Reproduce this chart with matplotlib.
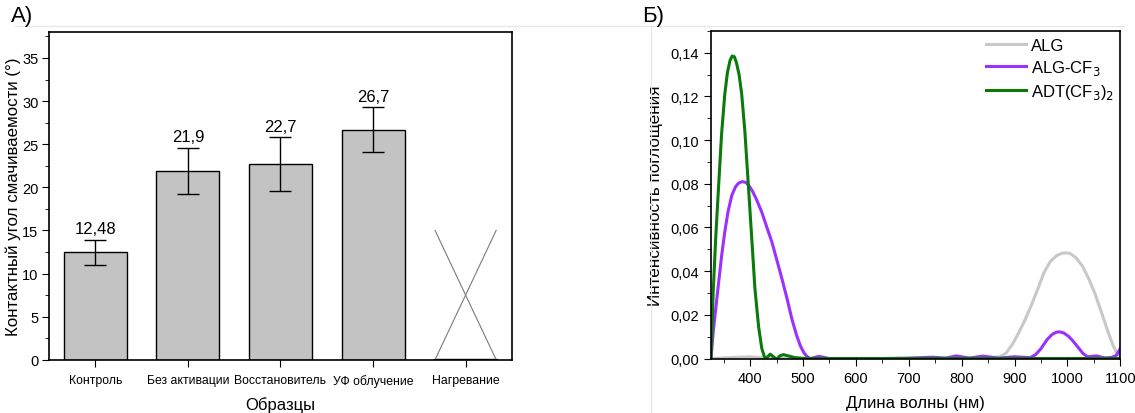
import matplotlib
matplotlib.use("Agg")
import matplotlib.pyplot as plt
from matplotlib.ticker import MultipleLocator, FuncFormatter
from matplotlib.lines import Line2D

plt.rcParams["font.family"] = ["Liberation Sans", "DejaVu Sans"]

# ── Data: panel A (contact angle) ──────────────────────────────────────
samples = ["Контроль", "Без активации", "Восстановитель", "УФ облучение", "Нагревание"]
angles = [12.48, 21.9, 22.7, 26.7, 0.1]
errors = [1.45, 2.7, 3.1, 2.6, 0.0]
value_labels = ["12,48", "21,9", "22,7", "26,7", ""]

# ── Data: panel B (absorption spectra) ─────────────────────────────────
alg_wl = [326, 350, 380, 400, 420, 450, 500, 600, 700, 800, 860, 872, 884, 896, 908,
          920, 932, 944, 956, 968, 980, 990, 998, 1006, 1016, 1028, 1040, 1052, 1064,
          1076, 1086, 1094, 1100]
alg_val = [0.0, 0.0003, 0.0006, 0.0008, 0.0004, 0.0002, 0.0, 0.0, 0.0, 0.0003, 0.0005,
           0.0008, 0.0025, 0.0065, 0.0118, 0.0178, 0.0245, 0.0318, 0.0395, 0.0445,
           0.0472, 0.0482, 0.0484, 0.0480, 0.0462, 0.0425, 0.0368, 0.0298, 0.0215,
           0.0128, 0.0062, 0.0022, 0.0010]

cf3_wl = [326, 330, 335, 340, 346, 352, 358, 365, 372, 378, 385, 392, 398, 404, 412,
          422, 431, 441, 450, 460, 470, 479, 488, 495, 502, 508, 514, 530, 550, 600,
          650, 700, 745, 770, 790, 815, 840, 870, 900, 930, 940, 950, 962, 972, 980,
          986, 994, 1002, 1010, 1020, 1030, 1038, 1055, 1070, 1084, 1093, 1100]
cf3_val = [0.0, 0.012, 0.023, 0.034, 0.047, 0.058, 0.067, 0.0745, 0.0785, 0.0803,
           0.081, 0.0806, 0.079, 0.0768, 0.0728, 0.067, 0.0605, 0.0534, 0.0455, 0.0366,
           0.0272, 0.018, 0.0105, 0.0058, 0.0025, 0.0008, 0.0, 0.001, 0.0, 0.0, 0.0,
           0.0002, 0.0006, 0.0002, 0.0012, 0.0002, 0.0011, 0.0002, 0.0008, 0.0004,
           0.0018, 0.0045, 0.0088, 0.0112, 0.0121, 0.0122, 0.0116, 0.0102, 0.0082,
           0.0052, 0.0022, 0.0008, 0.0012, 0.0003, 0.0005, 0.0015, 0.0046]

adt_wl = [326, 330, 335, 340, 346, 352, 357, 362, 366, 370, 374, 379, 384, 390, 397,
          403, 409, 416, 422, 428, 433, 438, 444, 450, 456, 463, 472, 485, 505, 600,
          700, 800, 900, 1000, 1100]
adt_val = [0.0, 0.03, 0.056, 0.0776, 0.103, 0.121, 0.131, 0.1365, 0.1385, 0.1382,
           0.1355, 0.130, 0.121, 0.104, 0.0777, 0.055, 0.032, 0.0145, 0.0046, 0.0,
           0.0008, 0.002, 0.0008, -0.0005, 0.0012, 0.0018, 0.0012, 0.0004, 0.0, 0.0,
           0.0, 0.0, 0.0, 0.0, 0.0]

fig = plt.figure(figsize=(11.35, 4.14), dpi=100)

# faint frame lines from the original layout
fig.add_artist(Line2D([0.013, 0.99], [0.935, 0.935], color="#e6e6e6", lw=0.8))
fig.add_artist(Line2D([0.574, 0.574], [0.0, 0.935], color="#e6e6e6", lw=0.8))

comma = FuncFormatter(lambda v, p: f"{v:.2f}".replace(".", ","))

# ── Panel A ────────────────────────────────────────────────────────────
ax1 = fig.add_axes([0.0432, 0.1287, 0.4078, 0.7913])
pos = list(range(1, len(samples) + 1))
ax1.bar(pos, angles, width=0.68, color="#c3c3c3", edgecolor="black", linewidth=1.0, zorder=2)
ax1.errorbar(pos[:4], angles[:4], yerr=errors[:4], fmt="none", ecolor="black",
             elinewidth=1.0, capsize=8, capthick=1.0, zorder=3)
for x, y, e, t in zip(pos, angles, errors, value_labels):
    if t:
        ax1.text(x, y + e + 0.4, t, ha="center", va="bottom", fontsize=12)

# crossed-out "Нагревание" bar
xl, xr = pos[4] - 0.33, pos[4] + 0.33
ax1.plot([xl, xr], [0, 15], color="#7a7a7a", lw=0.8)
ax1.plot([xl, xr], [15, 0], color="#7a7a7a", lw=0.8)

ax1.set_xlim(0.5, 5.5)
ax1.set_ylim(0, 38)
ax1.set_xticks(pos)
ax1.set_xticklabels(samples)
ax1.yaxis.set_major_locator(MultipleLocator(5))
ax1.yaxis.set_minor_locator(MultipleLocator(2.5))
ax1.tick_params(axis="both", which="major", direction="out", length=5, labelsize=10.5)
ax1.tick_params(axis="y", which="major", pad=2.5)
ax1.tick_params(axis="x", which="major", labelsize=8.8, pad=5)
ax1.tick_params(axis="y", which="minor", direction="out", length=3)
ax1.set_ylabel("Контактный угол смачиваемости (°)", fontsize=12.2, labelpad=1)
ax1.set_xlabel("Образцы", fontsize=12, labelpad=7)
for s in ax1.spines.values():
    s.set_linewidth(1.2)
fig.text(0.010, 0.935, "А)", fontsize=16, va="bottom")

# ── Panel B ────────────────────────────────────────────────────────────
ax2 = fig.add_axes([0.626, 0.130, 0.361, 0.793])
ax2.plot(alg_wl, alg_val, color="#c8c8c8", lw=2.2, label="ALG")
ax2.plot(cf3_wl, cf3_val, color="#9b30ff", lw=2.2, label="ALG-CF$_3$")
ax2.plot(adt_wl, adt_val, color="#0a7a0a", lw=2.2, label="ADT(CF$_3$)$_2$")
ax2.set_xlim(325, 1100)
ax2.set_ylim(-0.0003, 0.15)
ax2.xaxis.set_major_locator(MultipleLocator(100))
ax2.xaxis.set_minor_locator(MultipleLocator(50))
ax2.yaxis.set_major_locator(MultipleLocator(0.02))
ax2.yaxis.set_minor_locator(MultipleLocator(0.01))
ax2.yaxis.set_major_formatter(comma)
ax2.tick_params(axis="both", which="major", direction="out", length=5, labelsize=10.5)
ax2.tick_params(axis="both", which="minor", direction="out", length=3)
ax2.set_ylabel("Интенсивность поглощения", fontsize=12.3, labelpad=5)
ax2.set_xlabel("Длина волны (нм)", fontsize=12, labelpad=7)
for s in ax2.spines.values():
    s.set_linewidth(1.2)
ax2.legend(loc="upper right", frameon=False, fontsize=12, handlelength=2.4,
           handletextpad=0.25, labelspacing=0.3, borderaxespad=0.0)
fig.text(0.566, 0.935, "Б)", fontsize=16, va="bottom")

plt.savefig("out.png", dpi=100)
